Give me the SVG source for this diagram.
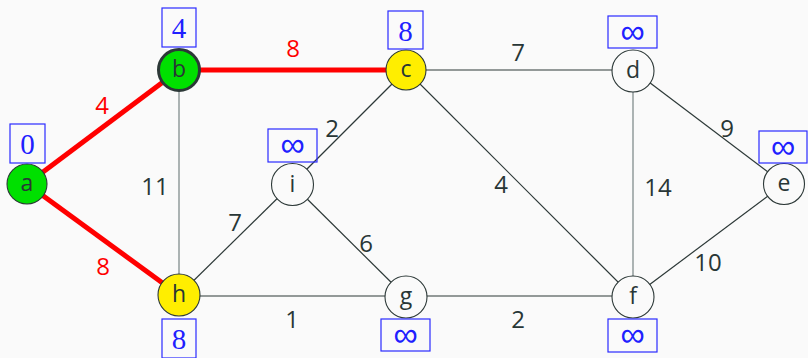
<svg xmlns="http://www.w3.org/2000/svg" width="808" height="358" viewBox="0 0 808 358">
  <style>
    .edge { stroke: #2c3837; stroke-width: 1.2; fill: none; }
    .edge.v { stroke: #778484; }
    .tree { stroke: #ff0000; stroke-width: 5; fill: none; }
    .node { stroke: #2c3837; stroke-width: 1.1; fill: #fafafa; }
    .done { fill: #00e000; }
    .seen { fill: #ffee00; }
    .cur { stroke-width: 3; }
    .lbl { font-family: "Open Sans", "DejaVu Sans", sans-serif; font-size: 23px; fill: #283636; text-anchor: middle; dominant-baseline: central; }
    .w { font-family: "Open Sans", "DejaVu Sans", sans-serif; font-size: 24px; fill: #283636; text-anchor: middle; dominant-baseline: central; }
    .w.red { fill: #ff0000; }
    .box { fill: none; stroke: #2a2aff; stroke-width: 1.2; }
    .dist { font-family: "Liberation Serif", "DejaVu Serif", serif; font-size: 29px; fill: #2020ff; text-anchor: middle; dominant-baseline: central; }
    .inf { font-family: "DejaVu Sans", sans-serif; font-weight: 200; font-size: 34px; fill: #2020ff; text-anchor: middle; }
  </style>
  <rect width="808" height="358" fill="#fafafa"/>

  <g id="edges">
    <line class="edge v" x1="179" y1="70" x2="179" y2="295"/>
    <line class="edge" x1="406" y1="70" x2="633" y2="70"/>
    <line class="edge" x1="406" y1="70" x2="292" y2="184"/>
    <line class="edge" x1="406" y1="70" x2="633" y2="297"/>
    <line class="edge v" x1="633" y1="70" x2="633" y2="297"/>
    <line class="edge" x1="633" y1="70" x2="784" y2="184"/>
    <line class="edge" x1="784" y1="184" x2="633" y2="297"/>
    <line class="edge" x1="292" y1="184" x2="179" y2="295"/>
    <line class="edge" x1="292" y1="184" x2="406" y2="297"/>
    <line class="edge" x1="179" y1="296" x2="406" y2="296"/>
    <line class="edge" x1="406" y1="296" x2="633" y2="296"/>
    <line class="tree" x1="27" y1="184" x2="179" y2="70"/>
    <line class="tree" x1="179" y1="70" x2="406" y2="70"/>
    <line class="tree" x1="27" y1="184" x2="179" y2="295"/>

    <text class="w red" x="102" y="104">4</text>
    <text class="w red" x="293" y="47">8</text>
    <text class="w red" x="103" y="265">8</text>
    <text class="w" x="155" y="185">11</text>
    <text class="w" x="332" y="127">2</text>
    <text class="w" x="518" y="51">7</text>
    <text class="w" x="727" y="127">9</text>
    <text class="w" x="658" y="186">14</text>
    <text class="w" x="501" y="183">4</text>
    <text class="w" x="235" y="221">7</text>
    <text class="w" x="366" y="242">6</text>
    <text class="w" x="708" y="261">10</text>
    <text class="w" x="292" y="318">1</text>
    <text class="w" x="518" y="318">2</text>
  </g>

  <g id="node-a">
    <circle class="node done" cx="27" cy="184" r="20"/>
    <text class="lbl" x="27" y="182">a</text>
    <rect class="box" x="10" y="124" width="35" height="39"/>
    <text class="dist" x="27.5" y="144">0</text>
  </g>
  <g id="node-b">
    <circle class="node done cur" cx="179" cy="70" r="20.5"/>
    <text class="lbl" x="179" y="68">b</text>
    <rect class="box" x="162" y="8" width="34" height="39"/>
    <text class="dist" x="179" y="28">4</text>
  </g>
  <g id="node-c">
    <circle class="node seen" cx="406" cy="70" r="20"/>
    <text class="lbl" x="406" y="68">c</text>
    <rect class="box" x="388" y="11" width="35" height="38"/>
    <text class="dist" x="405.5" y="30.5">8</text>
  </g>
  <g id="node-d">
    <circle class="node" cx="633" cy="71" r="21"/>
    <text class="lbl" x="633" y="69">d</text>
    <rect class="box" x="608" y="16" width="49" height="32"/>
    <text class="inf" x="632.5" y="43">∞</text>
  </g>
  <g id="node-e">
    <circle class="node" cx="784" cy="184" r="20.5"/>
    <text class="lbl" x="784" y="182">e</text>
    <rect class="box" x="759" y="131" width="48" height="32"/>
    <text class="inf" x="783" y="158">∞</text>
  </g>
  <g id="node-f">
    <circle class="node" cx="633" cy="297" r="21"/>
    <text class="lbl" x="633" y="295">f</text>
    <rect class="box" x="608" y="319" width="49" height="33"/>
    <text class="inf" x="632.5" y="346">∞</text>
  </g>
  <g id="node-g">
    <circle class="node" cx="406" cy="297" r="21"/>
    <text class="lbl" x="406" y="295">g</text>
    <rect class="box" x="381" y="319" width="49" height="32"/>
    <text class="inf" x="405.5" y="346">∞</text>
  </g>
  <g id="node-h">
    <circle class="node seen" cx="179" cy="295" r="21"/>
    <text class="lbl" x="179" y="293">h</text>
    <rect class="box" x="162" y="319" width="34" height="39"/>
    <text class="dist" x="179" y="339">8</text>
  </g>
  <g id="node-i">
    <circle class="node" cx="292.5" cy="184.5" r="21"/>
    <text class="lbl" x="292.5" y="182.5">i</text>
    <rect class="box" x="268" y="129" width="49" height="33"/>
    <text class="inf" x="292.5" y="156">∞</text>
  </g>
</svg>
